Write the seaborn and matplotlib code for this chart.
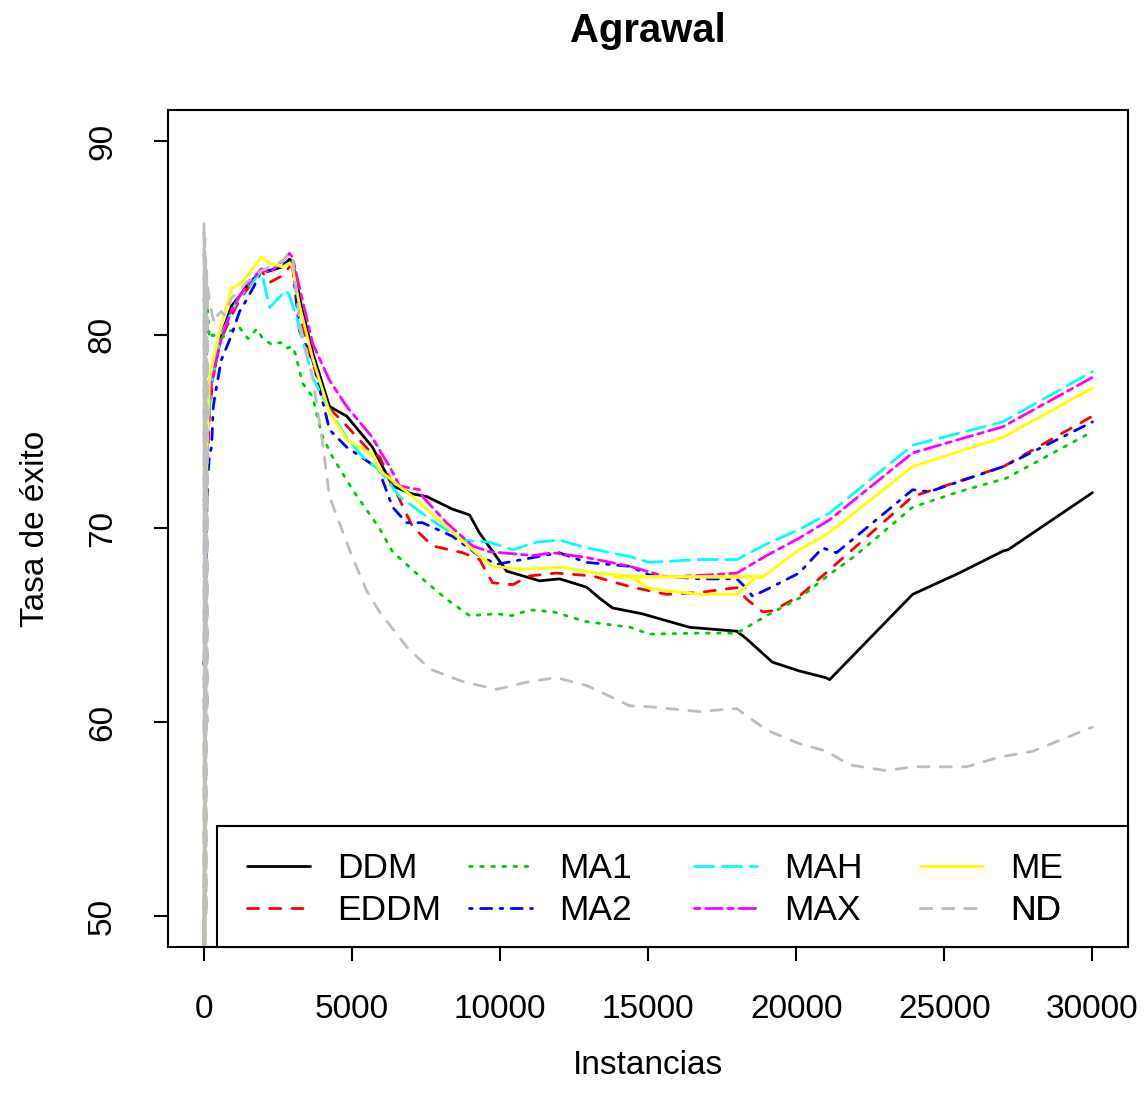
import matplotlib
matplotlib.use("Agg")
import numpy as np
import pandas as pd
import matplotlib.pyplot as plt
import seaborn as sns
from matplotlib.patches import Rectangle

# ---------------- data ----------------
ddm_x = [0, 60, 135, 270, 600, 950, 1215, 1450, 1950, 2230, 2660, 2900, 3000, 3300, 3700, 4250, 4830,
         5700, 6380, 7000, 7530, 8400, 8980, 9300, 10230, 11340, 12020, 12930, 13370, 13800, 14800,
         16400, 18000, 18330, 19200, 20100, 21000, 21130, 23930, 25500, 27000, 27150, 30000]
ddm_y = [40, 70, 75.5, 77.5, 80.0, 81.5, 82.0, 82.5, 83.3, 83.3, 83.5, 83.9, 83.8, 81.5, 79.0, 76.3, 75.8,
         74.2, 72.2, 71.8, 71.65, 71.0, 70.7, 69.8, 67.8, 67.3, 67.4, 66.97, 66.4, 65.9, 65.6,
         64.9, 64.7, 64.3, 63.1, 62.65, 62.3, 62.2, 66.6, 67.7, 68.85, 68.9, 71.85]

eddm_x = [0, 100, 200, 300, 450, 600, 950, 1215, 1450, 1950, 2230, 2660, 2900, 3000, 3240, 3680, 4250,
          4830, 5600, 5940, 6615, 7050, 7730, 8740, 9315, 9750, 10430, 11000, 11900, 13130, 14380,
          15630, 16740, 18000, 18330, 18870, 19200, 20100, 21000, 23930, 27000, 30000]
eddm_y = [40, 72, 76.0, 77.5, 79.0, 79.8, 81.0, 81.8, 82.3, 83.3, 82.7, 83.05, 83.5, 83.6, 81.0, 78.5, 76.2,
          75.3, 74.0, 73.7, 71.5, 70.1, 69.1, 68.75, 68.4, 67.2, 67.1, 67.55, 67.7, 67.55, 67.0,
          66.6, 66.7, 66.95, 66.35, 65.7, 65.75, 66.5, 67.7, 71.65, 73.2, 75.8]

ma1_x = [0, 60, 135, 200, 300, 600, 900, 1200, 1500, 1800, 2000, 2300, 2600, 2800, 3000, 3100, 3340,
         3680, 4000, 4350, 5030, 5940, 6380, 7390, 8200, 8980, 9890, 10400, 11000, 11800, 12900,
         14400, 15050, 16740, 18000, 19000, 20100, 21100, 22000, 23930, 25500, 27100, 30000]
ma1_y = [40, 75, 81.3, 79.8, 80.0, 79.8, 80.2, 80.4, 79.8, 80.3, 79.8, 79.5, 79.6, 79.3, 79.4, 79.0, 77.5,
         76.8, 74.8, 73.7, 72.0, 70.0, 68.8, 67.4, 66.35, 65.5, 65.6, 65.5, 65.8, 65.7, 65.2,
         64.9, 64.55, 64.6, 64.6, 65.5, 66.4, 67.6, 68.6, 71.1, 71.9, 72.6, 75.0]

ma2_x = [0, 50, 100, 135, 200, 270, 330, 400, 600, 950, 1215, 1450, 1700, 1950, 2230, 2500, 2900, 3000,
         3240, 3680, 4250, 4830, 5600, 5940, 6040, 6380, 6850, 7390, 8400, 9300, 9890, 10770, 12000,
         12930, 14380, 15050, 16740, 18000, 18330, 18530, 19200, 20100, 20890, 21360, 21800, 23930,
         24500, 27000, 30000]
ma2_y = [63.0, 64.3, 70.0, 72.5, 73.8, 74.2, 76.3, 77.0, 78.7, 80.0, 81.2, 81.8, 82.5, 83.3, 83.3, 83.5,
         83.8, 83.6, 80.2, 78.7, 75.1, 74.2, 73.4, 73.0, 72.5, 71.1, 70.3, 70.3, 69.6, 68.6, 68.15,
         68.4, 68.75, 68.25, 68.05, 67.6, 67.4, 67.4, 66.9, 66.5, 67.0, 67.7, 69.0, 68.75, 69.3,
         72.0, 71.9, 73.2, 75.5]

mah_x = [0, 100, 135, 270, 600, 950, 1215, 1450, 1950, 2230, 2530, 2800, 2900, 3140, 3680, 4250, 4830,
         5370, 5940, 6615, 7630, 8740, 9650, 10430, 11240, 12015, 12930, 14380, 15050, 16740, 18000,
         19000, 20100, 21130, 23930, 26970, 30000]
mah_y = [40, 72, 75.0, 77.5, 80.0, 81.2, 82.0, 82.3, 83.3, 81.4, 81.9, 82.3, 82.0, 80.9, 77.8, 76.1, 74.7,
         73.7, 73.0, 71.65, 70.5, 69.4, 69.3, 68.9, 69.3, 69.4, 69.0, 68.55, 68.25, 68.4, 68.4,
         69.2, 69.95, 70.8, 74.3, 75.5, 78.1]

max_x = [0, 100, 200, 400, 600, 950, 1215, 1450, 1950, 2230, 2660, 2900, 3000, 3680, 4250, 4830, 5700,
         5940, 6280, 6615, 7290, 7390, 8200, 9080, 9650, 10430, 11100, 11780, 12930, 14380, 15630,
         16980, 18000, 19000, 20100, 21130, 23930, 26970, 30000]
max_y = [40, 74, 77.0, 78.5, 79.8, 81.3, 82.0, 82.5, 83.4, 83.2, 83.8, 84.2, 84.0, 79.55, 77.65, 76.3, 74.7,
         74.05, 73.2, 72.2, 72.0, 71.65, 70.3, 69.1, 68.8, 68.7, 68.6, 68.75, 68.5, 68.05, 67.5,
         67.6, 67.7, 68.6, 69.5, 70.45, 73.9, 75.25, 77.8]

me_x = [0, 20, 60, 100, 135, 200, 370, 600, 945, 1215, 1450, 1950, 2230, 2660, 2900, 3000, 3240, 3680,
        4250, 4830, 5700, 5940, 7050, 8200, 9080, 9750, 10770, 12120, 13260, 14380, 15050, 16740,
        18000, 18660, 18870, 13870, 18870, 20100, 21130, 23930, 26970, 30000]
me_y = [30, 60, 70, 73, 75.1, 77.7, 79.0, 80.5, 82.4, 82.6, 83.0, 84.0, 83.7, 83.5, 83.7, 83.5, 81.5, 78.8,
        76.0, 74.6, 73.8, 73.0, 71.65, 70.1, 68.9, 68.05, 67.9, 68.0, 67.7, 67.55, 66.9, 66.6,
        66.6, 67.5, 67.5, 67.5, 67.5, 68.9, 69.8, 73.2, 74.7, 77.25]

nd_x = [0, 15, 30, 45, 60, 75, 90, 105, 120, 135, 200, 270, 370, 470, 600, 700, 950, 1215, 1450, 1950,
        2230, 2660, 2900, 3000, 3240, 3680, 4000, 4250, 5000, 5500, 5940, 6850, 7630, 8740, 9890,
        11000, 11900, 12930, 14380, 15050, 16740, 17850, 18000, 19000, 20100, 21030, 21800, 23050,
        23930, 25750, 26860, 27980, 30000]
nd_y = [30, 85.8, 40, 85.0, 45, 84.0, 50, 83.5, 60, 82.5, 81.8, 81.2, 80.6, 81.0, 81.2, 81.0, 81.9, 82.3,
        82.7, 83.3, 83.5, 83.8, 84.2, 84.0, 80.6, 77.8, 74.6, 71.65, 68.6, 66.8, 65.7, 63.9, 62.75,
        62.1, 61.7, 62.1, 62.3, 61.9, 60.85, 60.8, 60.55, 60.7, 60.7, 59.6, 58.9, 58.5, 57.8, 57.5,
        57.7, 57.7, 58.2, 58.5, 59.75]

series_names = ["DDM", "EDDM", "MA1", "MA2", "MAH", "MAX", "ME", "ND"]
x_ticks = [0, 5000, 10000, 15000, 20000, 25000, 30000]
x_tick_labels = ["0", "5000", "10000", "15000", "20000", "25000", "30000"]
y_ticks = [50, 60, 70, 80, 90]
y_tick_labels = ["50", "60", "70", "80", "90"]
title = "Agrawal"
x_label = "Instancias"
y_label = "Tasa de éxito"

# ---------------- styling ----------------
colors = ["#000000", "#FF0000", "#00CD00", "#0000FF", "#00FFFF", "#FF00FF", "#FFFF00", "#BEBEBE"]
styles = ["-", (0, (4, 4)), (0, (1, 3)), (0, (1, 3, 4, 3)), (0, (7, 3)), (0, (2, 2, 6, 2)), "-", (0, (4, 4))]
xs_all = [ddm_x, eddm_x, ma1_x, ma2_x, mah_x, max_x, me_x, nd_x]
ys_all = [ddm_y, eddm_y, ma1_y, ma2_y, mah_y, max_y, me_y, nd_y]

sns.set_style("ticks")
plt.rcParams['font.family'] = ['Liberation Sans', 'DejaVu Sans']
plt.rcParams['text.color'] = 'black'
plt.rcParams['axes.labelcolor'] = 'black'
plt.rcParams['xtick.color'] = 'black'
plt.rcParams['ytick.color'] = 'black'

W, H = 1147, 1109
fig = plt.figure(figsize=(W / 100, H / 100), dpi=100)
ax = fig.add_axes([168 / W, 1 - 947 / H, (1128 - 168) / W, (947 - 110) / H])

LW = 2.0
lines = []
for name, xs, ys, col, ls in zip(series_names, xs_all, ys_all, colors, styles):
    df = pd.DataFrame({"x": xs, "y": ys})
    sns.lineplot(data=df, x="x", y="y", ax=ax, sort=False, estimator=None, color=col,
                 linestyle=ls, linewidth=LW, label=name, legend=False,
                 dash_capstyle="round", solid_capstyle="round")
    lines.append(ax.get_lines()[-1])
if ax.get_legend() is not None:
    ax.get_legend().remove()

ax.set_xlim(-1200, 31200)
ax.set_ylim(48.4, 91.6)
ax.set_xticks(x_ticks)
ax.set_xticklabels(x_tick_labels)
ax.set_yticks(y_ticks)
ax.set_yticklabels(y_tick_labels)
ax.tick_params(axis="both", direction="out", length=10, width=1.5, colors="black", labelsize=24)
ax.tick_params(axis="x", pad=24)
ax.tick_params(axis="y", pad=26)
for lab in ax.get_yticklabels():
    lab.set_rotation(90)
    lab.set_va("center")
    lab.set_ha("right")
for sp in ax.spines.values():
    sp.set_visible(True)
    sp.set_color("black")
    sp.set_linewidth(1.5)

ax.set_xlabel(x_label, fontsize=24, color="black")
ax.set_ylabel(y_label, fontsize=24, color="black")
ax.xaxis.set_label_coords(0.5, (947 - 1065) / 837)
ax.xaxis.label.set_va("center")
ax.yaxis.set_label_coords((35 - 168) / 960, 0.5)
ax.yaxis.label.set_va("center")

fig.text((168 + 1128) / 2 / W, 1 - 31 / H, title, fontsize=28.8, fontweight="bold",
         ha="center", va="center", color="black")

# ---------------- legend (R style box, 4 columns x 2 rows) ----------------
x0 = (217 - 168) / 960
h = (947 - 826) / 837
ax.add_patch(Rectangle((x0, 0), 1 - x0, h, transform=ax.transAxes, facecolor="white",
                       edgecolor="black", linewidth=1.5, zorder=4, clip_on=False))
col_px = [247, 469, 694, 920]
row_px = [869, 911]
fs = 25.5
fs_px = fs * 100 / 72
for i, ln in enumerate(lines):
    c, r = divmod(i, 2)
    leg = ax.legend(handles=[ln], labels=[series_names[i]], loc="center left",
                    bbox_to_anchor=((col_px[c] - 168) / 960, (947 - row_px[r]) / 837),
                    frameon=False, borderpad=0, borderaxespad=0, fontsize=fs,
                    handlelength=63 / fs_px, handletextpad=27 / fs_px)
    leg.set_zorder(6)
    for t in leg.get_texts():
        t.set_color("black")
    ax.add_artist(leg)

fig.savefig("out.png", dpi=100, facecolor="white")
